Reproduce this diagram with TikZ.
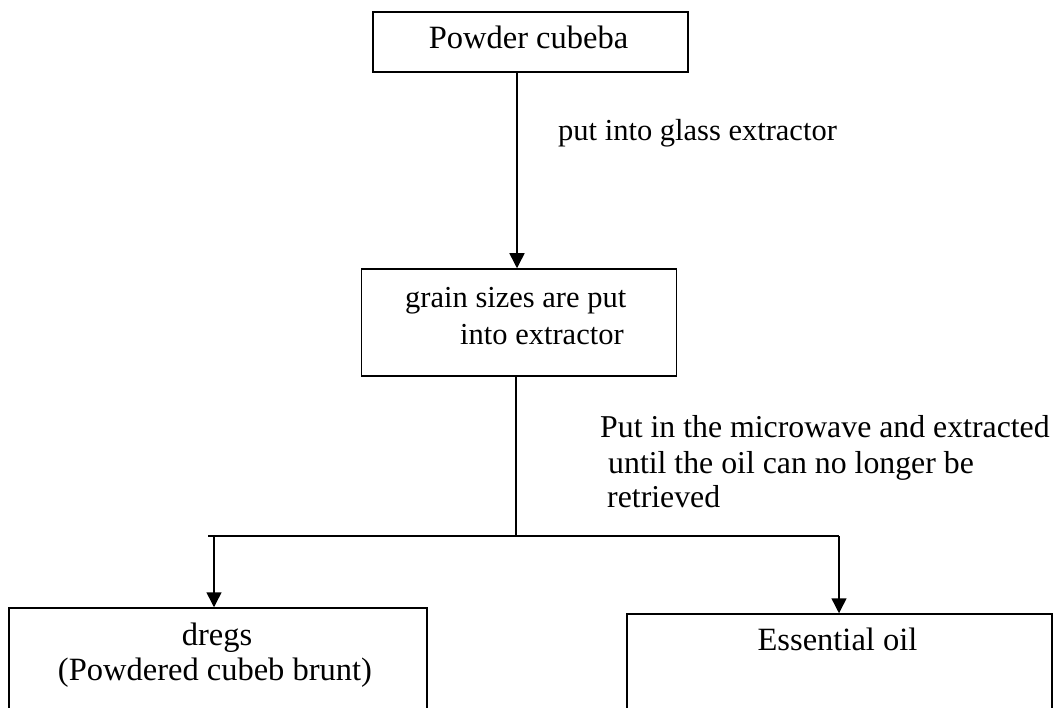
\documentclass[tikz,border=0pt]{standalone}
\usepackage{fontspec}
\setmainfont{Liberation Serif}
\usetikzlibrary{arrows.meta}
\begin{document}
\begin{tikzpicture}[x=1pt,y=-1pt,
  box/.style={draw, line width=1.5pt, inner sep=0pt, rectangle},
  txt/.style={inner sep=0pt, font=\fontsize{30.5}{36}\selectfont},
  big/.style={inner sep=0pt, font=\fontsize{32.5}{38}\selectfont},
  mw/.style={inner sep=0pt, font=\fontsize{31.8}{38}\selectfont},
  arr/.style={line width=1.5pt, -{Triangle[width=15pt,length=15pt]}},
  ln/.style={line width=1.5pt}]
\useasboundingbox (0,0) rectangle (1056,708);
\clip (0,0) rectangle (1056,708);
\fill[white] (0,0) rectangle (1056,708);
% boxes
\node[box, minimum width=315pt, minimum height=60pt] (top) at (530.5,42) {};
\node[box, minimum width=315pt, minimum height=107pt] (mid) at (519,322.5) {};
\node[box, minimum width=418pt, minimum height=200pt] (left) at (218,708) {};
\node[box, minimum width=425pt, minimum height=200pt] (right) at (839.5,714) {};
% texts
\node[big, anchor=base] (t1) at (528.5,49) {Powder cubeba};
\node[txt, anchor=base west] (t2) at (405,307) {grain sizes are put};
\node[txt, anchor=base west] (t3) at (460,344) {into extractor};
\node[big, anchor=base] (t4) at (217,645) {dregs};
\node[big, anchor=base] (t5) at (215,680) {(Powdered cubeb brunt)};
\node[big, anchor=base] (t6) at (837.5,650) {Essential oil};
\node[txt, anchor=base west] (l1) at (558,141) {put into glass extractor};
\node[mw, anchor=base west] (l2) at (600,437) {Put in the microwave and extracted};
\node[mw, anchor=base west] (l3) at (608,473) {until the oil can no longer be};
\node[mw, anchor=base west] (l4) at (607,507) {retrieved};
% connectors
\coordinate (split) at (516,536);
\coordinate (hl) at (208,536);
\coordinate (hr) at (839,536);
\draw[arr] (top.south -| 517,0) -- (mid.north -| 517,0);
\draw[ln] (mid.south -| split) -- (split);
\draw[ln] (hl) -- (hr);
\draw[arr] (214,536) -- (left.north -| 214,0);
\draw[arr] (hr) -- (hr |- right.north);
\end{tikzpicture}
\end{document}
